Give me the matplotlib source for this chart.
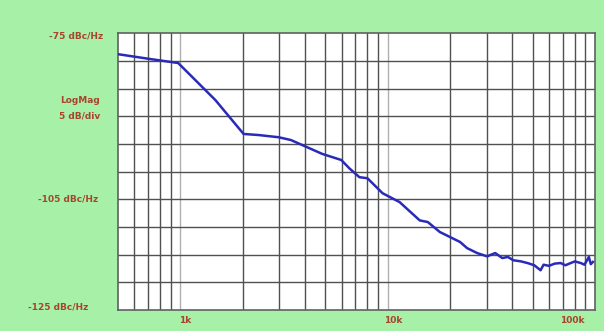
import numpy as np
import matplotlib.pyplot as plt

# phase noise trace (Hz, dBc/Hz)
freq = [500, 723, 978, 1479, 2021, 2393, 2990, 3420, 4840, 5980, 6540, 7310,
        8000, 9460, 11430, 14290, 15630, 17870, 19990, 22370, 24170, 27040,
        30250, 31500, 33060, 35740, 38000, 40430, 44000, 47290, 51000, 54680,
        56530, 60000, 64000, 68340, 72000, 76430, 80000, 85470, 89000, 93480,
        95500, 97780]
noise = [-78.8, -79.7, -80.4, -87.1, -93.2, -93.4, -93.8, -94.3, -96.8, -97.9,
         -99.4, -101.0, -101.2, -103.9, -105.5, -108.8, -109.1, -110.9, -111.8,
         -112.7, -113.8, -114.7, -115.3, -115.0, -114.7, -115.6, -115.4, -116.0,
         -116.2, -116.5, -116.9, -117.8, -116.8, -117.0, -116.6, -116.5, -116.9,
         -116.5, -116.2, -116.5, -116.8, -115.4, -116.7, -116.3]

y_labels = ['-75 dBc/Hz', 'LogMag\n5 dB/div', '-105 dBc/Hz', '-125 dBc/Hz']
y_label_pos = [-75.5, -88.5, -105, -124.5]
y_label_x = [103, 80, 98, 88]  # pixel x of label anchor
y_label_ha = ['right', 'center', 'right', 'right']
x_labels = ['1k', '10k', '100k']
x_label_pos = [1060, 10700, 78000]

bg = '#a6f0a8'
txt = '#a8442c'

fig = plt.figure(figsize=(6.04, 3.31), dpi=100, facecolor=bg)
ax = fig.add_axes([0.195, 0.063, 0.79, 0.837])
ax.set_facecolor('white')
ax.set_xscale('log')
ax.set_xlim(500, 100000)
ax.set_ylim(-125, -75)

# grid: decade lines lighter, others dark
for dec in [100, 1000, 10000]:
    for k in range(1, 10):
        f = dec * k
        if 500 < f < 100000:
            c = '#b0b0b0' if k == 1 else '#505050'
            ax.axvline(f, color=c, lw=1.0, zorder=1)
for v in np.arange(-120, -75, 5):
    ax.axhline(v, color='#505050', lw=1.0, zorder=1)

ax.plot(freq, noise, color='#2a2ab8', lw=1.8, zorder=3)

ax.set_xticks([])
ax.set_yticks([])
ax.minorticks_off()
for s in ax.spines.values():
    s.set_color('#606060')
    s.set_linewidth(1.2)

for lab, v, px, ha in zip(y_labels, y_label_pos, y_label_x, y_label_ha):
    ax.annotate(lab, xy=(px / 604, v), xycoords=('figure fraction', 'data'),
                ha=ha, va='center', color=txt, fontsize=6.5, fontweight='bold',
                multialignment='center', linespacing=1.9, annotation_clip=False)

for lab, f in zip(x_labels, x_label_pos):
    ax.text(f, -126.0, lab, ha='center', va='top', color=txt,
            fontsize=6.5, fontweight='bold')

fig.savefig('out.png', dpi=100, facecolor=bg)
